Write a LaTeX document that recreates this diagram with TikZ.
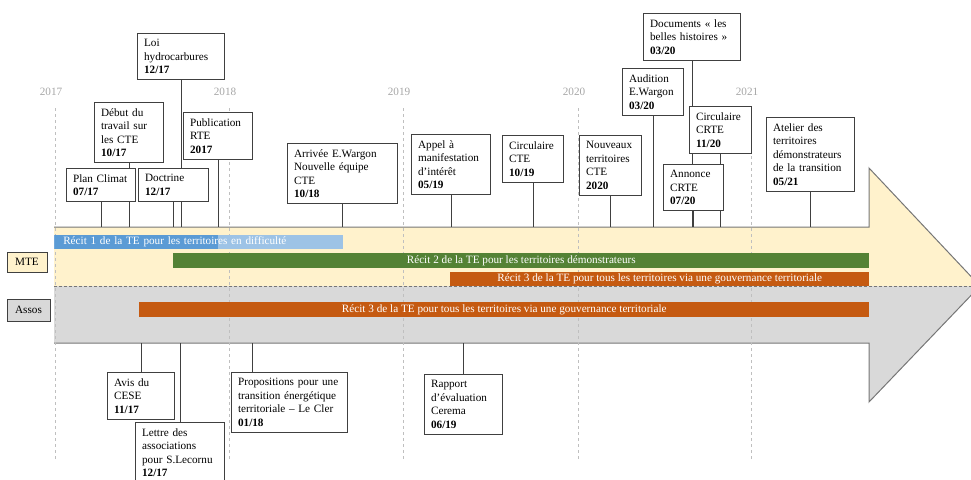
\documentclass[tikz,border=0pt]{standalone}
\usepackage{fontspec}
\setmainfont{Liberation Serif}
\usepackage{xcolor}
\usetikzlibrary{backgrounds}

\definecolor{mteyellow}{RGB}{255,242,204}
\definecolor{assogray}{RGB}{217,217,217}
\definecolor{recitblue}{RGB}{91,155,213}
\definecolor{recitlightblue}{RGB}{157,195,230}
\definecolor{recitgreen}{RGB}{84,130,53}
\definecolor{recitorange}{RGB}{197,90,17}
\definecolor{boxline}{RGB}{64,64,64}
\definecolor{arrowline}{RGB}{118,118,118}
\definecolor{yeargray}{RGB}{166,166,166}
\definecolor{yeardash}{RGB}{191,191,191}

\newcommand{\evfont}{\fontsize{8.4}{10.1}\selectfont}

\begin{document}
\begin{tikzpicture}[x=0.75pt, y=-0.75pt,
    evbox/.style={draw=boxline, line width=0.6pt, fill=white, anchor=north west, align=left, inner xsep=5pt, inner ysep=4.5pt, font=\evfont},
    recit/.style={anchor=west, minimum height=10.9pt, inner ysep=0pt, inner xsep=0pt, text=white, font=\evfont},
    actor/.style={draw=boxline, line width=0.75pt, inner sep=0pt, font=\evfont},
    stem/.style={draw=boxline, line width=0.6pt},
    year/.style={text=yeargray, font=\evfont},
    yearline/.style={draw=yeardash, line width=0.5pt, dash pattern=on 2.25pt off 2.25pt}
]
\useasboundingbox (0,0) rectangle (971,479);

% Events above the arrow
\node[evbox, text width=41.75pt] (plan) at (66,168) {Plan Climat\\\textbf{07/17}};
\node[evbox, text width=41.75pt] (debut) at (94,102) {Début du\\travail sur\\les CTE\\\textbf{10/17}};
\node[evbox, text width=42.5pt] (doctrine) at (138,168) {Doctrine\\\textbf{12/17}};
\node[evbox, text width=55.25pt] (loi) at (137,33) {Loi\\hydrocarbures\\\textbf{12/17}};
\node[evbox, text width=41.75pt] (rte) at (183,112) {Publication\\RTE\\\textbf{2017}};
\node[evbox, text width=72.5pt] (wargon) at (287,143) {Arrivée E.Wargon\\Nouvelle équipe\\CTE\\\textbf{10/18}};
\node[evbox, text width=49.25pt] (appel) at (411,134) {Appel à\\manifestation\\d’intérêt\\\textbf{05/19}};
\node[evbox, text width=35.75pt] (circte) at (502,135) {Circulaire\\CTE\\\textbf{10/19}};
\node[evbox, text width=36.5pt] (nouveaux) at (579,135) {Nouveaux\\territoires\\CTE\\\textbf{2020}};
\node[evbox, text width=35.75pt] (audition) at (622,68) {Audition\\E.Wargon\\\textbf{03/20}};
\node[evbox, text width=62.75pt] (documents) at (643,13) {Documents «~les\\belles histoires~»\\\textbf{03/20}};
\node[evbox, text width=36.5pt] (circrte) at (689,106) {Circulaire\\CRTE\\\textbf{11/20}};
\node[evbox, text width=35pt] (annonce) at (663,164) {Annonce\\CRTE\\\textbf{07/20}};
\node[evbox, text width=56pt] (atelier) at (766,117) {Atelier des\\territoires\\démonstrateurs\\de la transition\\\textbf{05/21}};

% Events below the arrow
\node[evbox, text width=40.25pt] (cese) at (107,372) {Avis du\\CESE\\\textbf{11/17}};
\node[evbox, text width=56.75pt] (lettre) at (135,422) {Lettre des\\associations\\pour S.Lecornu\\\textbf{12/17}};
\node[evbox, text width=77pt] (prop) at (231,372) {Propositions pour une\\transition énergétique\\territoriale – Le Cler\\\textbf{01/18}};
\node[evbox, text width=48.5pt] (rapport) at (424,374) {Rapport\\d’évaluation\\Cerema\\\textbf{06/19}};

% Recits
\node[recit, fill=recitlightblue, minimum width=216.75pt, text width=203.25pt, align=left,
      path picture={\fill[recitblue] (path picture bounding box.north west) rectangle ([xshift=123pt]path picture bounding box.south west);}]
      (recit1) at (54,242) {Récit 1 de la TE pour les territoires en difficulté};
\node[recit, fill=recitgreen, minimum width=522pt] (recit2) at (173,260.5) {Récit 2 de la TE pour les territoires démonstrateurs};
\node[recit, fill=recitorange, minimum width=314.25pt] (recit3m) at (450,279) {Récit 3 de la TE pour tous les territoires via une gouvernance territoriale};
\node[recit, fill=recitorange, minimum width=547.5pt] (recit3a) at (139,309.5) {Récit 3 de la TE pour tous les territoires via une gouvernance territoriale};

% Actors
\node[actor, fill=mteyellow, minimum width=30pt, minimum height=15pt] (mte) at (27,262) {MTE};
\node[actor, fill=assogray, minimum width=32.25pt, minimum height=16.5pt] (assos) at (28.5,310) {Assos};

\begin{scope}[on background layer]
% Arrow
\fill[mteyellow] (54,227) -- (869,227) -- (869,168) -- (980,286) -- (54,286) -- cycle;
\fill[assogray] (54,286) -- (980,286) -- (869,402) -- (869,343) -- (54,343) -- cycle;
\draw[arrowline, line width=0.75pt] (54,227) -- (869,227) -- (869,168) -- (980,286) -- (869,402) -- (869,343) -- (54,343);
\draw[arrowline, line width=0.75pt, dash pattern=on 2.25pt off 1.5pt] (54,286) -- (975,286);
% Years
\foreach \yr/\xx in {2017/55, 2018/229, 2019/403, 2020/578, 2021/751} {
  \node[year] (y\yr) at (\xx-4,92) {\yr};
  \draw[yearline] (\xx,108) -- (\xx,460);
}
% Stems
\coordinate (btop) at (0,227);
\coordinate (bbot) at (0,343);
\foreach \ev in {plan,debut,doctrine,loi,rte,wargon,appel,circte,nouveaux,audition,documents,circrte,annonce,atelier}
  \draw[stem] (\ev.south) -- (\ev.south |- btop);
\foreach \ev in {cese,lettre,rapport}
  \draw[stem] (\ev.north) -- (\ev.north |- bbot);
\draw[stem] ([xshift=15.75pt]prop.north west) -- ([xshift=15.75pt]prop.north west |- bbot);
\end{scope}
\end{tikzpicture}
\end{document}
